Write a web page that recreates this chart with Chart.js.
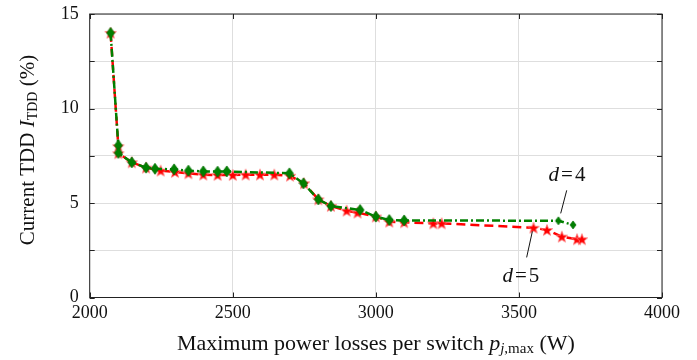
<!DOCTYPE html>
<html>
<head>
<meta charset="UTF-8" />
<title>TDD vs power losses</title>
<script src="https://cdn.jsdelivr.net/npm/chart.js"></script>
<style>
  html, body { margin: 0; padding: 0; background: #fff; }
  #wrap { width: 697px; height: 360px; position: relative; }
</style>
</head>
<body>
<div id="wrap"><canvas id="tdd"></canvas></div>
<script>
// d = 4 (green diamonds, dash-dot)
const d4Losses = [2073, 2100, 2100, 2147, 2197, 2228, 2295, 2345, 2397, 2447, 2479, 2698, 2747, 2799, 2843, 2945, 3000, 3047, 3099, 3638, 3689];
const d4Tdd    = [14.0, 8.05, 7.65, 7.15, 6.87, 6.81, 6.78, 6.71, 6.67, 6.66, 6.67, 6.57, 6.04, 5.19, 4.84, 4.63, 4.28, 4.10, 4.08, 4.06, 3.84];
// d = 5 (red stars, dashed)
const d5Losses = [2073, 2100, 2100, 2147, 2197, 2248, 2298, 2345, 2397, 2447, 2500, 2545, 2595, 2645, 2700, 2749, 2799, 2843, 2898, 2936, 3000, 3047, 3099, 3201, 3230, 3551, 3598, 3650, 3703, 3720];
const d5Tdd    = [14.0, 8.00, 7.63, 7.15, 6.87, 6.71, 6.64, 6.57, 6.50, 6.48, 6.48, 6.50, 6.50, 6.50, 6.44, 6.04, 5.19, 4.84, 4.59, 4.49, 4.28, 4.01, 3.98, 3.92, 3.92, 3.69, 3.57, 3.22, 3.08, 3.08];

const xTicks = [2000, 2500, 3000, 3500, 4000];
const yTicks = [0, 5, 10, 15];

const GREEN = "#008000";
const RED = "#ff0000";
const SERIF = "'Liberation Serif', 'DejaVu Serif', serif";

function makeStar(r) {
  const c = document.createElement("canvas");
  const s = Math.ceil(r * 2 + 4);
  c.width = s; c.height = s;
  const g = c.getContext("2d");
  g.translate(s / 2, s / 2 + 0.5);
  g.beginPath();
  for (let i = 0; i < 10; i++) {
    const rad = i % 2 === 0 ? r : r * 0.42;
    const a = -Math.PI / 2 + i * Math.PI / 5;
    g.lineTo(rad * Math.cos(a), rad * Math.sin(a));
  }
  g.closePath();
  g.fillStyle = RED;
  g.fill();
  g.strokeStyle = "rgba(255,120,120,0.8)";
  g.lineWidth = 1;
  g.stroke();
  return c;
}

function makeDiamond(w, h) {
  const c = document.createElement("canvas");
  c.width = w + 2; c.height = h + 2;
  const g = c.getContext("2d");
  g.translate(1, 1);
  g.beginPath();
  g.moveTo(w / 2, 0);
  g.lineTo(w, h / 2);
  g.lineTo(w / 2, h);
  g.lineTo(0, h / 2);
  g.closePath();
  g.fillStyle = GREEN;
  g.fill();
  g.strokeStyle = "rgba(0,110,0,0.9)";
  g.lineWidth = 0.8;
  g.stroke();
  return c;
}

const star = makeStar(6);
const diamond = makeDiamond(8, 11);
const smallDiamond = makeDiamond(6, 8);

const d4Styles = d4Losses.map((x) => (x > 3500 ? smallDiamond : diamond));

// box + inward ticks on all four sides, axis titles with subscripts, d labels
const frame = {
  id: "frame",
  afterDatasetsDraw(chart) {
    const { ctx, chartArea: a, scales } = chart;
    ctx.save();
    ctx.strokeStyle = "#222";
    ctx.lineWidth = 1;
    ctx.strokeRect(a.left, a.top, a.right - a.left, a.bottom - a.top);
    ctx.beginPath();
    scales.y.ticks.forEach((t) => {
      const y = Math.round(scales.y.getPixelForValue(t.value)) + 0.5;
      ctx.moveTo(a.left, y); ctx.lineTo(a.left + 5, y);
      ctx.moveTo(a.right, y); ctx.lineTo(a.right - 5, y);
    });
    scales.x.ticks.forEach((t) => {
      const x = Math.round(scales.x.getPixelForValue(t.value)) + 0.5;
      ctx.moveTo(x, a.bottom); ctx.lineTo(x, a.bottom - 5);
      ctx.moveTo(x, a.top); ctx.lineTo(x, a.top + 5);
    });
    ctx.stroke();

    const X = (v) => scales.x.getPixelForValue(v);
    const Y = (v) => scales.y.getPixelForValue(v);

    // annotation leaders
    ctx.strokeStyle = "#111";
    ctx.lineWidth = 1;
    ctx.beginPath();
    ctx.moveTo(X(3667), Y(5.67)); ctx.lineTo(X(3646), Y(4.45));
    ctx.moveTo(X(3547), Y(3.5)); ctx.lineTo(X(3527), Y(2.12));
    ctx.stroke();

    ctx.fillStyle = "#111";
    ctx.textBaseline = "middle";

    function runs(parts, cx, cy) {
      let total = 0;
      parts.forEach((p) => { ctx.font = p.f; p.w = ctx.measureText(p.t).width + (p.gap || 0) * 2; total += p.w; });
      let x = cx - total / 2;
      ctx.textAlign = "left";
      parts.forEach((p) => { ctx.font = p.f; ctx.fillText(p.t, x + (p.gap || 0), cy + (p.dy || 0)); x += p.w; });
    }

    function dLabel(num, cx, cy) {
      runs([
        { t: "d", f: "italic 21px " + SERIF },
        { t: "=", f: "21px " + SERIF, gap: 2 },
        { t: num, f: "21px " + SERIF }
      ], cx, cy);
    }
    dLabel("4", X(3668), Y(6.45));
    dLabel("5", X(3507), Y(1.1));

    // x axis title
    runs([
      { t: "Maximum power losses per switch ", f: "22px " + SERIF },
      { t: "p", f: "italic 22px " + SERIF },
      { t: "j", f: "italic 15px " + SERIF, dy: 5 },
      { t: ",max", f: "15px " + SERIF, dy: 5 },
      { t: " (W)", f: "22px " + SERIF }
    ], (a.left + a.right) / 2, 344);

    // y axis title
    ctx.save();
    ctx.translate(28, 150);
    ctx.rotate(-Math.PI / 2);
    runs([
      { t: "Current TDD ", f: "21px " + SERIF },
      { t: "I", f: "italic 21px " + SERIF },
      { t: "TDD", f: "14px " + SERIF, dy: 5 },
      { t: " (%)", f: "21px " + SERIF }
    ], 0, 0);
    ctx.restore();
    ctx.restore();
  }
};

new Chart(document.getElementById("tdd"), {
  type: "line",
  data: {
    datasets: [
      {
        label: "d=4",
        data: d4Losses.map((x, i) => ({ x: x, y: d4Tdd[i] })),
        borderColor: GREEN,
        borderWidth: 2.5,
        borderDash: [8, 3, 2, 3],
        pointStyle: d4Styles,
        pointRadius: 5,
        fill: false,
        tension: 0
      },
      {
        label: "d=5",
        data: d5Losses.map((x, i) => ({ x: x, y: d5Tdd[i] })),
        borderColor: RED,
        borderWidth: 2.5,
        borderDash: [9, 5],
        pointStyle: star,
        pointRadius: 5,
        fill: false,
        tension: 0
      }
    ]
  },
  options: {
    responsive: true,
    maintainAspectRatio: false,
    animation: false,
    layout: { padding: { top: 14, right: 35, left: 0, bottom: 0 } },
    plugins: { legend: { display: false }, tooltip: { enabled: false } },
    scales: {
      x: {
        type: "linear",
        min: xTicks[0],
        max: xTicks[xTicks.length - 1],
        afterBuildTicks: (s) => { s.ticks = xTicks.map((v) => ({ value: v })); },
        afterFit: (s) => { s.height = 62.5; s.paddingLeft = 0; s.paddingRight = 0; },
        grid: { color: "#dedede", lineWidth: 1, drawTicks: false },
        border: { display: false },
        ticks: {
          color: "#111",
          font: { family: SERIF, size: 18 },
          padding: 5,
          maxRotation: 0,
          callback: (v) => String(v)
        }
      },
      y: {
        min: 0,
        max: 15,
        ticks: {
          stepSize: 2.5,
          color: "#111",
          font: { family: SERIF, size: 18 },
          padding: 11,
          callback: (v) => (yTicks.includes(v) ? String(v) : "")
        },
        afterFit: (s) => { s.width = 89.7; s.paddingTop = 0; s.paddingBottom = 0; },
        grid: { color: "#dedede", lineWidth: 1, drawTicks: false },
        border: { display: false }
      }
    }
  },
  plugins: [frame]
});
</script>
</body>
</html>
